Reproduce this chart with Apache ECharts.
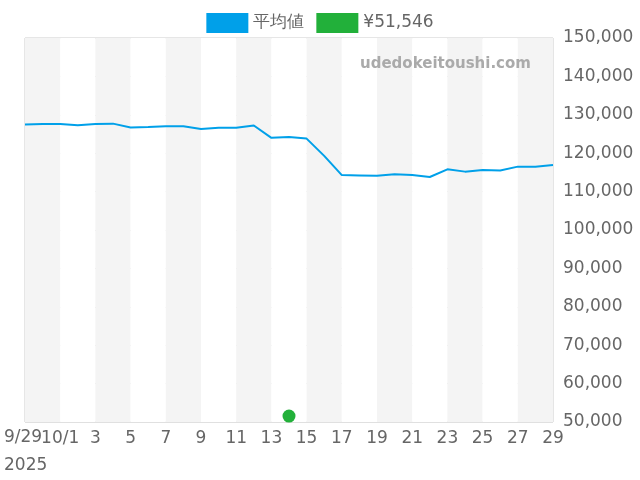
<!DOCTYPE html>
<html><head><meta charset="utf-8">
<script src="https://cdn.jsdelivr.net/npm/echarts@6/dist/echarts.min.js"></script>
<style>html,body{margin:0;padding:0}#c{width:640px;height:480px}</style>
</head><body><div id="c"></div>
<script>
const categories = ['9/29','9/30','10/1','10/2','10/3','10/4','10/5','10/6','10/7','10/8','10/9','10/10','10/11','10/12','10/13','10/14','10/15','10/16','10/17','10/18','10/19','10/20','10/21','10/22','10/23','10/24','10/25','10/26','10/27','10/28','10/29'];
const avgValues = [127500,127600,127600,127300,127600,127700,126700,126800,127000,127000,126300,126600,126600,127200,124000,124200,123800,119300,114300,114200,114100,114500,114300,113800,115800,115200,115600,115500,116500,116500,116900];
const pointValues = categories.map((c,i)=> c==='10/14' ? 51546 : null);
const yearLabel = '2025';
const font = 'DejaVu Sans';
const chart = echarts.init(document.getElementById('c'));
chart.setOption({
  animation:false,
  textStyle:{fontFamily:font},
  legend:{top:8,left:'center',itemWidth:42,itemHeight:20,itemGap:12,icon:'rect',
    textStyle:{fontSize:17,color:'#666',fontFamily:font},
    data:['平均値','¥51,546']},
  grid:{left:25,right:87,top:38,bottom:58,show:true,borderColor:'#ccc',borderWidth:1,backgroundColor:'transparent'},
  graphic:[
    {type:'text',left:360,top:57,z:100,style:{text:'udedokeitoushi.com',fill:'#aaaaaa',fontSize:15,fontWeight:'bold',fontFamily:font}},
    {type:'text',left:4,top:429,z:100,style:{text:categories[0],fill:'#666666',fontSize:17,fontFamily:font}},
    {type:'text',left:4,top:457,z:100,style:{text:yearLabel,fill:'#666666',fontSize:17,fontFamily:font}}
  ],
  xAxis:{type:'category',data:categories,boundaryGap:false,
    axisLine:{show:false},axisTick:{show:false},
    axisLabel:{interval:1,fontSize:17,color:'#666',margin:8,
      formatter:(v,i)=>{ if(v==='9/29') return ''; if(v==='10/1') return v; return v.split('/')[1]; }},
    splitLine:{show:false},
    splitArea:{show:true,interval:1,areaStyle:{color:['#f4f4f4','#ffffff']}}},
  yAxis:{type:'value',position:'right',min:50000,max:150000,interval:10000,
    axisLine:{show:false},axisTick:{show:false},
    axisLabel:{fontSize:17,color:'#666',margin:10,formatter:v=>v.toLocaleString('en-US')},
    splitLine:{lineStyle:{color:'#e0e0e0'}}},
  series:[
    {name:'平均値',type:'line',data:avgValues,showSymbol:false,symbol:'none',
      itemStyle:{color:'#00a0e9'},lineStyle:{color:'#00a0e9',width:2}},
    {name:'¥51,546',type:'scatter',data:pointValues,symbolSize:13,itemStyle:{color:'#22b03a',opacity:1}}
  ]
});
</script></body></html>
